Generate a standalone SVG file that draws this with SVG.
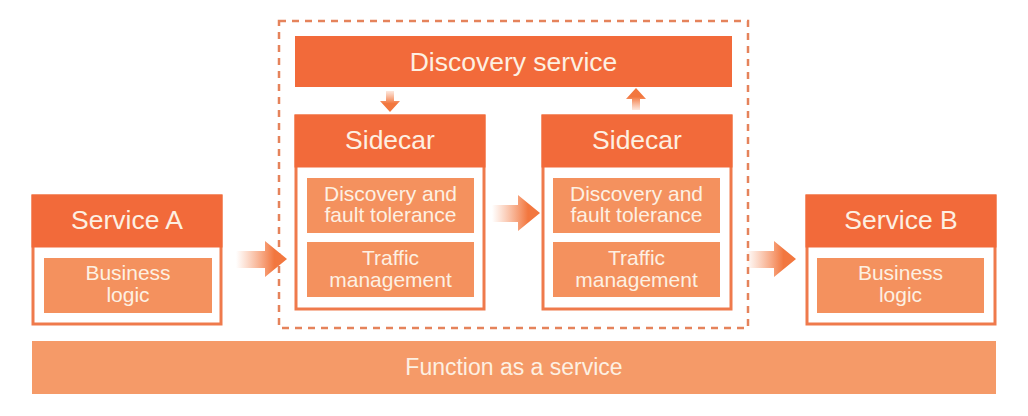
<svg xmlns="http://www.w3.org/2000/svg" width="1028" height="416" viewBox="0 0 1028 416">
<defs>
<style>
.outer{fill:#fff;stroke:#EF7A4C;stroke-width:3}
.head{fill:#F26A3A}
.inner{fill:#F4915E}
.hdr{font-family:"Liberation Sans",Arial,sans-serif;font-size:26.5px;fill:#FDF0E2;text-anchor:middle}
.txt{font-family:"Liberation Sans",Arial,sans-serif;font-size:21px;fill:#FDF0E2;text-anchor:middle}
.fas{font-family:"Liberation Sans",Arial,sans-serif;font-size:23px;fill:#FDF0E2;text-anchor:middle}
</style>
<linearGradient id="gh" x1="0" y1="0" x2="1" y2="0">
<stop offset="0" stop-color="#F58A58" stop-opacity="0"/>
<stop offset="0.75" stop-color="#F2773F"/>
<stop offset="1" stop-color="#F2773F"/>
</linearGradient>
<linearGradient id="gd" x1="0" y1="0" x2="0" y2="1">
<stop offset="0" stop-color="#F58A58" stop-opacity="0.2"/>
<stop offset="0.6" stop-color="#F2773F"/>
<stop offset="1" stop-color="#F2773F"/>
</linearGradient>
<linearGradient id="gu" x1="0" y1="1" x2="0" y2="0">
<stop offset="0" stop-color="#F58A58" stop-opacity="0.2"/>
<stop offset="0.6" stop-color="#F2773F"/>
<stop offset="1" stop-color="#F2773F"/>
</linearGradient>
</defs>

<g id="mesh-boundary">
<rect x="279" y="21" width="469" height="307" fill="none" stroke="#E5835B" stroke-width="2.5" stroke-dasharray="7,6"/>
</g>

<g id="discovery-service">
<rect class="head" x="295" y="36" width="437" height="51"/>
<text class="hdr" x="513.5" y="71">Discovery service</text>
</g>

<g id="service-a">
<rect class="outer" x="33" y="196" width="188" height="128"/>
<rect class="head" x="31.5" y="194.5" width="191" height="53"/>
<text class="hdr" x="127" y="229">Service A</text>
<rect class="inner" x="44" y="258" width="168" height="55"/>
<text class="txt" x="128" y="280">Business</text>
<text class="txt" x="128" y="302">logic</text>
</g>

<g id="sidecar-1">
<rect class="outer" x="296" y="116" width="188" height="193"/>
<rect class="head" x="294.5" y="114.5" width="191" height="53"/>
<text class="hdr" x="390" y="149">Sidecar</text>
<rect class="inner" x="307" y="178" width="167" height="55"/>
<text class="txt" x="390.5" y="201">Discovery and</text>
<text class="txt" x="390.5" y="222">fault tolerance</text>
<rect class="inner" x="307" y="242" width="167" height="55"/>
<text class="txt" x="390.5" y="265">Traffic</text>
<text class="txt" x="390.5" y="287">management</text>
</g>

<g id="sidecar-2">
<rect class="outer" x="543" y="116" width="188" height="193"/>
<rect class="head" x="541.5" y="114.5" width="191" height="53"/>
<text class="hdr" x="637" y="149">Sidecar</text>
<rect class="inner" x="553" y="178" width="167" height="55"/>
<text class="txt" x="636.5" y="201">Discovery and</text>
<text class="txt" x="636.5" y="222">fault tolerance</text>
<rect class="inner" x="553" y="242" width="167" height="55"/>
<text class="txt" x="636.5" y="265">Traffic</text>
<text class="txt" x="636.5" y="287">management</text>
</g>

<g id="service-b">
<rect class="outer" x="807" y="196" width="188" height="128"/>
<rect class="head" x="805.5" y="194.5" width="191" height="53"/>
<text class="hdr" x="901" y="229">Service B</text>
<rect class="inner" x="817" y="258" width="167" height="55"/>
<text class="txt" x="900.5" y="280">Business</text>
<text class="txt" x="900.5" y="302">logic</text>
</g>

<g id="function-as-a-service">
<rect x="32" y="341" width="964" height="53" fill="#F59A68"/>
<text class="fas" x="514" y="375">Function as a service</text>
</g>

<g id="connectors">
<path d="M236 251 H265 V241 L287 259 L265 277 V268 H236 Z" fill="url(#gh)"/>
<path d="M492 205 H518 V195 L540 213 L518 231 V222 H492 Z" fill="url(#gh)"/>
<path d="M746 251 H774 V241 L796 259 L774 277 V268 H746 Z" fill="url(#gh)"/>
<path d="M386 91 H394 V101 H400 L390 112 L380 101 H386 Z" fill="url(#gd)"/>
<path d="M632 110 H640 V99 H646 L636 88 L626 99 H632 Z" fill="url(#gu)"/>
</g>
</svg>
